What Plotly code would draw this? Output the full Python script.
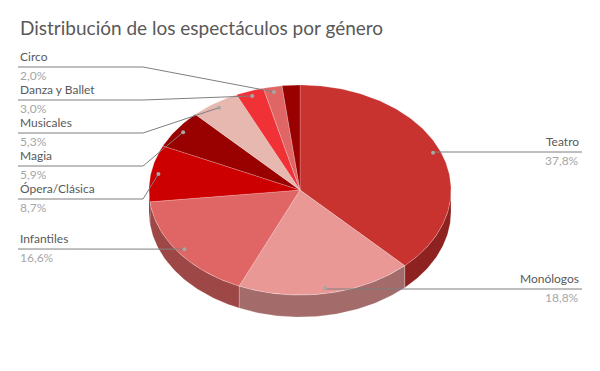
import numpy as np
import plotly.graph_objects as go

categories = ["Teatro", "Monólogos", "Infantiles", "Ópera/Clásica", "Magia",
              "Musicales", "Danza y Ballet", "Circo", ""]
values = [37.8, 18.8, 16.6, 8.7, 5.9, 5.3, 3.0, 2.0, 1.9]
top_colors = ["#C8322F", "#E99896", "#E06666", "#CC0000", "#990000",
              "#E6B8AF", "#F03237", "#E06666", "#990000"]
side_colors = ["#8E2220", "#A36B6A", "#9D4747", "#900000", "#6B0000",
               "#A3827C", "#A82226", "#9D4747", "#6B0000"]
title_text = "Distribución de los espectáculos por género"

# pie geometry (pixel space)
CX, CY, RX, RY, DEPTH = 300.0, 190.0, 151.0, 105.0, 22.0

def pt(theta, r=1.0, dy=0.0):
    return CX + RX * r * np.sin(theta), CY - RY * r * np.cos(theta) + dy

total = sum(values)
fracs = [v / total for v in values]
starts = np.cumsum([0] + fracs[:-1]) * 2 * np.pi
ends = np.cumsum(fracs) * 2 * np.pi

fig = go.Figure()

# side walls (front half: theta in [pi/2, 3pi/2])
for s, e, c in zip(starts, ends, side_colors):
    a, b = max(s, np.pi / 2), min(e, 3 * np.pi / 2)
    if b <= a:
        continue
    th = np.linspace(a, b, 80)
    xt, yt = pt(th)
    xb, yb = pt(th[::-1], dy=DEPTH)
    fig.add_trace(go.Scatter(x=np.r_[xt, xb, xt[0]], y=np.r_[yt, yb, yt[0]],
                             fill="toself", fillcolor=c, mode="lines",
                             line=dict(color="rgba(255,255,255,0.35)", width=0.6),
                             hoverinfo="skip", showlegend=False))

# top faces
for s, e, c in zip(starts, ends, top_colors):
    th = np.linspace(s, e, max(4, int((e - s) * 60)))
    xa, ya = pt(th)
    fig.add_trace(go.Scatter(x=np.r_[CX, xa, CX], y=np.r_[CY, ya, CY],
                             fill="toself", fillcolor=c, mode="lines",
                             line=dict(color="rgba(255,255,255,0.35)", width=0.6),
                             hoverinfo="skip", showlegend=False))

# label layout: (side, name_y, line_y, pct_y, elbow_x)
label_layout = {
    "Teatro": ("R", 141, 152, 159, None),
    "Monólogos": ("R", 278, 289, 296, None),
    "Infantiles": ("L", 238, 249, 256, None),
    "Ópera/Clásica": ("L", 188, 199, 206, 143),
    "Magia": ("L", 155, 166, 173, 143),
    "Musicales": ("L", 122, 133, 140, 143),
    "Danza y Ballet": ("L", 89, 100, 107, 143),
    "Circo": ("L", 56, 67, 74, 143),
}

dot_x, dot_y = [], []
name_font = dict(family="Lato, Open Sans, sans-serif", size=12, color="#595959")
pct_font = dict(family="Lato, Open Sans, sans-serif", size=12, color="#A6A6A6")
for cat, v, s, e in zip(categories, values, starts, ends):
    if cat not in label_layout:
        continue
    side, ny, ly, py, ex = label_layout[cat]
    mx, my = pt((s + e) / 2, r=0.95)
    dot_x.append(mx); dot_y.append(my)
    pct = f"{v:.1f}%".replace(".", ",")
    if side == "R":
        xs, ys = [mx, 582], [my, ly]
        xs = [mx, mx + 1, 582]; ys = [my, ly, ly]
        anchor, tx = "right", 581
    else:
        if ex is None:
            xs, ys = [18, mx], [ly, my]
        else:
            xs, ys = [18, ex, mx], [ly, ly, my]
        anchor, tx = "left", 18
    fig.add_trace(go.Scatter(x=xs, y=ys, mode="lines",
                             line=dict(color="#7F7F7F", width=1),
                             hoverinfo="skip", showlegend=False))
    fig.add_annotation(x=tx, y=ny, text=cat, showarrow=False, xanchor=anchor,
                       yanchor="middle", font=name_font)
    fig.add_annotation(x=tx, y=py + 1, text=pct, showarrow=False, xanchor=anchor,
                       yanchor="middle", font=pct_font)

fig.add_trace(go.Scatter(x=dot_x, y=dot_y, mode="markers",
                         marker=dict(color="#A6A6A6", size=4),
                         hoverinfo="skip", showlegend=False))

fig.add_annotation(x=18, y=27, text=title_text, showarrow=False, xanchor="left",
                   yanchor="middle",
                   font=dict(family="Lato, Open Sans, sans-serif", size=19, color="#595959"))

fig.update_layout(
    width=600, height=371, margin=dict(l=0, r=0, t=0, b=0),
    paper_bgcolor="white", plot_bgcolor="white",
    xaxis=dict(range=[0, 600], visible=False, fixedrange=True),
    yaxis=dict(range=[371, 0], visible=False, fixedrange=True),
)
fig.write_html("out.html")
